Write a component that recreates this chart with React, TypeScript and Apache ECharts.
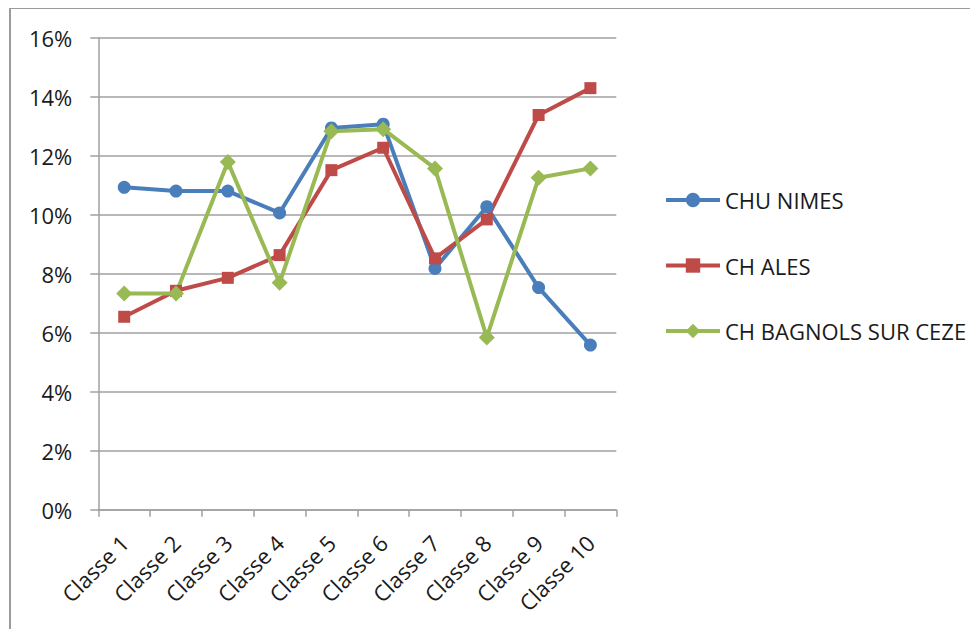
import React, { useEffect, useRef } from "react";
import * as echarts from "echarts";

const categories = ["Classe 1", "Classe 2", "Classe 3", "Classe 4", "Classe 5", "Classe 6", "Classe 7", "Classe 8", "Classe 9", "Classe 10"];
const chuNimes = [10.93, 10.8, 10.8, 10.06, 12.94, 13.07, 8.18, 10.27, 7.53, 5.58];
const chAles = [6.54, 7.42, 7.86, 8.63, 11.51, 12.27, 8.52, 9.84, 13.38, 14.29];
const chBagnols = [7.33, 7.33, 11.79, 7.69, 12.83, 12.9, 11.57, 5.84, 11.25, 11.57];
const seriesNames = ["CHU NIMES", "CH ALES", "CH BAGNOLS SUR CEZE"];
const colors = ["#4A7EBB", "#BE4B48", "#98B954"];

const FONT = "Open Sans";

export default function App() {
  const ref = useRef<HTMLDivElement>(null);
  useEffect(() => {
    if (!ref.current) return;
    const chart = echarts.init(ref.current, undefined, { renderer: "svg" });
    const mk = (name: string, data: number[], color: string, symbol: string, size: number) => ({
      name,
      type: "line",
      data,
      symbol,
      symbolSize: size,
      showAllSymbol: true,
      lineStyle: { color, width: 4 },
      itemStyle: { color, borderWidth: 0 },
      emphasis: { disabled: true },
    });
    chart.setOption({
      animation: false,
      color: colors,
      textStyle: { fontFamily: FONT },
      graphic: [
        {
          type: "rect",
          shape: { x: 2, y: 0, width: 1100, height: 1100 },
          style: { fill: "none", stroke: "#9b9b9b", lineWidth: 2 },
          z: -1,
        },
      ],
      grid: { left: 90.3, top: 29.7, width: 518, height: 472 },
      legend: {
        orient: "vertical",
        left: 651,
        top: 176,
        padding: 5,
        itemWidth: 54,
        itemHeight: 18,
        itemGap: 43.5,
        lineStyle: { width: 4 },
        textStyle: { fontSize: 22, color: "#1a1a1a", fontFamily: FONT },
        data: seriesNames,
      },
      xAxis: {
        type: "category",
        data: categories,
        boundaryGap: true,
        axisLine: { lineStyle: { color: "#a0a0a0", width: 1.5 } },
        axisTick: { show: true, length: 7, lineStyle: { color: "#a0a0a0", width: 1.5 } },
        axisLabel: { rotate: 45, fontSize: 22, color: "#1a1a1a", margin: 29, fontFamily: FONT, interval: 0 },
      },
      yAxis: {
        type: "value",
        min: 0,
        max: 16,
        interval: 2,
        axisLine: { show: true, lineStyle: { color: "#a0a0a0", width: 1.5 } },
        axisTick: { show: true, length: 8, lineStyle: { color: "#a0a0a0", width: 1.5 } },
        splitLine: { lineStyle: { color: "#a0a0a0", width: 1.5 } },
        axisLabel: { formatter: "{value}%", fontSize: 22, color: "#1a1a1a", margin: 26, fontFamily: FONT },
      },
      series: [
        mk(seriesNames[0], chuNimes, colors[0], "circle", 13),
        mk(seriesNames[1], chAles, colors[1], "rect", 12),
        mk(seriesNames[2], chBagnols, colors[2], "diamond", 16),
      ],
    });
    return () => chart.dispose();
  }, []);
  return <div ref={ref} style={{ width: 970, height: 621 }} />;
}
